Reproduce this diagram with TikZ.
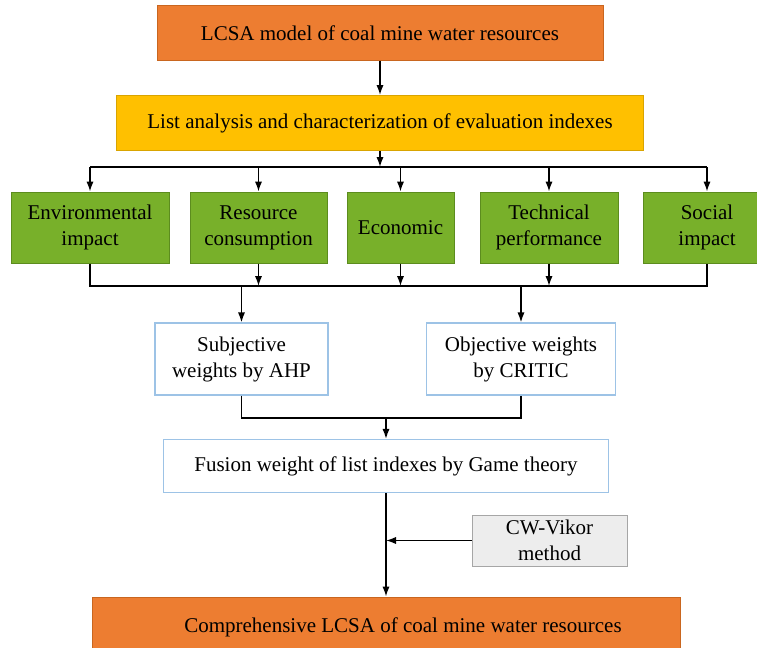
\documentclass[tikz,border=0pt]{standalone}
\usepackage{fontspec}
\setmainfont{Liberation Serif}
\usetikzlibrary{arrows.meta}

\definecolor{lcsaorange}{HTML}{ED7D31}
\definecolor{lcsaorangeline}{HTML}{C9661F}
\definecolor{listyellow}{HTML}{FFC000}
\definecolor{listyellowline}{HTML}{D9A400}
\definecolor{indexgreen}{HTML}{78B02A}
\definecolor{indexgreenline}{HTML}{5C8C1E}
\definecolor{weightblue}{HTML}{9DC3E6}
\definecolor{vikorgray}{HTML}{EDEDED}
\definecolor{vikorline}{HTML}{A6A6A6}

\begin{document}
\begin{tikzpicture}[x=0.5pt,y=-0.5pt,
    every node/.style={font={\fontsize{10.5}{13}\selectfont},align=center,inner sep=0pt},
    goal/.style={draw=lcsaorangeline,fill=lcsaorange,line width=0.5pt},
    listbox/.style={draw=listyellowline,fill=listyellow,line width=0.5pt},
    index/.style={draw=indexgreenline,fill=indexgreen,line width=0.5pt,minimum height=35.5pt},
    weight/.style={draw=weightblue,fill=white,line width=0.6pt},
    method/.style={draw=vikorline,fill=vikorgray,line width=0.5pt},
    link/.style={line width=0.7pt},
    arr/.style={link,-{Latex[length=5pt,width=3.6pt]}}]
\useasboundingbox (0,0) rectangle (757,648);

% top of the chart
\node[goal,minimum width=223pt,minimum height=27pt] (model) at (380,33)
    {LCSA model of coal mine water resources};
\node[listbox,minimum width=263.5pt,minimum height=27.5pt] (list) at (380,123)
    {List analysis and characterization of evaluation indexes};

% the five index groups
\node[index,minimum width=79pt] (env) at (90,227.5) {Environmental\\impact};
\node[index,minimum width=68.5pt] (res) at (258.5,227.5) {Resource\\consumption};
\node[index,minimum width=53.5pt] (eco) at (400.5,227.5) {Economic};
\node[index,minimum width=69pt] (tec) at (549,227.5) {Technical\\performance};
\node[index,minimum width=64pt] (soc) at (707,227.5) {Social\\impact};

% weights
\node[weight,minimum width=86.5pt,minimum height=36pt] (subj) at (241.5,359)
    {Subjective\\weights by AHP};
\node[weight,minimum width=94.5pt,minimum height=36pt] (obj) at (521,359)
    {Objective weights\\by CRITIC};
\node[weight,minimum width=222.5pt,minimum height=26.5pt] (fus) at (386,466)
    {Fusion weight of list indexes by Game theory};
\node[method,minimum width=77.5pt,minimum height=25.5pt] (vikor) at (549.5,540.5)
    {CW-Vikor\\method};
\node[goal,minimum width=294pt,minimum height=30pt] (final) at (386,627)
    {\hspace*{17pt}Comprehensive LCSA of coal mine water resources};

\coordinate (busa) at (380,167);
\coordinate (busb) at (380,286);
\coordinate (join) at (386,418);

\draw[arr] (model) -- (list);
\draw[arr] (list) -- (busa);
\draw[link] (env.north|-busa) -- (soc.north|-busa);
\foreach \n in {env,res,eco,tec,soc}
    \draw[arr] (\n.north|-busa) -- (\n.north);

\draw[link] (env.south) -- (env.south|-busb) -- (soc.south|-busb) -- (soc.south);
\foreach \n in {res,eco,tec}
    \draw[arr] (\n.south) -- (\n.south|-busb);
\draw[arr] (subj.north|-busb) -- (subj.north);
\draw[arr] (obj.north|-busb) -- (obj.north);

\draw[link] (subj.south) -- (subj.south|-join) -- (obj.south|-join) -- (obj.south);
\draw[arr] (join) -- (fus.north);
\draw[arr] (fus.south) -- (final.north);
\draw[arr] (vikor.west) -- (vikor.west-|fus.south);

\end{tikzpicture}
\end{document}
